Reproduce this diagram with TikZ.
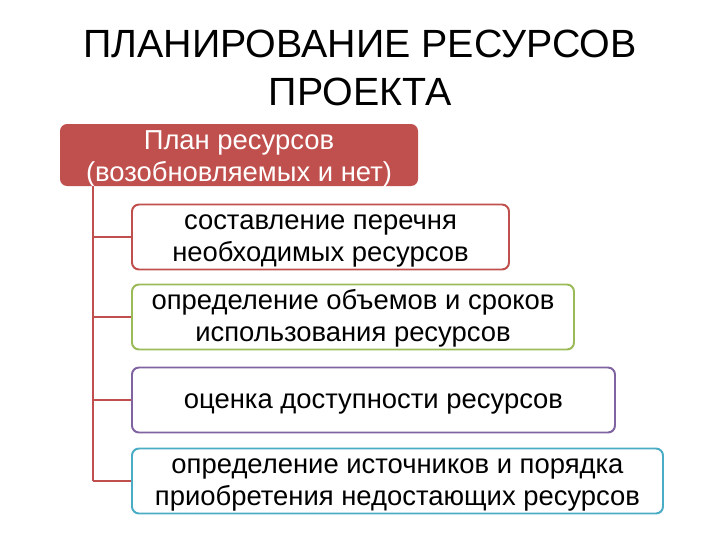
\documentclass[tikz,border=0pt]{standalone}
\usepackage{fontspec}
\setmainfont{Liberation Sans}
\usetikzlibrary{positioning}

\definecolor{planRed}{HTML}{C0504D}
\definecolor{planGreen}{HTML}{9BBB59}
\definecolor{planPurple}{HTML}{8064A2}
\definecolor{planTeal}{HTML}{4BACC6}

\tikzset{
	taskbox/.style={draw=#1, line width=1.4pt, rounded corners=5pt, fill=white, inner sep=0pt,
		align=center, anchor=west, font=\fontsize{19.5}{22.5}\selectfont},
	headbox/.style={fill=planRed, rounded corners=5pt, inner sep=0pt, align=center,
		text=white, font=\fontsize{19.5}{22.5}\selectfont},
	titleline/.style={inner sep=0pt, text height=20pt, text depth=0pt,
		font=\fontsize{28}{28}\selectfont},
	branch/.style={draw=planRed, line width=1.4pt}
}

\begin{document}
\begin{tikzpicture}[x=0.025cm, y=-0.025cm]

	%one unit is one pixel of the 720x540 sheet, y runs downwards
	\def\px{0.025cm}
	\def\boxLeft{131}
	\def\trunkX{93}
	%struts for the first line, so the text sits a little lower in its box
	\def\stepStrut{\rule{0pt}{16.5pt}}
	\def\headStrut{\rule{0pt}{15pt}}

	\useasboundingbox (0,0) rectangle (720,540);

	%title, two lines
	\node (titleTop) [titleline] at (360,43) {ПЛАНИРОВАНИЕ РЕСУРСОВ};
	\node (titleBottom) [titleline] at (360,91.5) {ПРОЕКТА};

	%head of the list
	\node (plan) [headbox, minimum width={358*\px}, minimum height={62*\px}] at (239,155)
		{\headStrut План ресурсов\\\raisebox{0pt}[\height][0pt]{(возобновляемых и нет)}};

	\coordinate (trunk) at (\trunkX,186);

	%the four steps: name/width/centre y/colour/text
	\foreach \name/\wid/\yc/\col/\txt in {
		stepA/377/237/planRed/{составление перечня\\необходимых ресурсов},
		stepB/442/317/planGreen/{определение объемов и сроков\\использования ресурсов},
		stepC/483/400/planPurple/{оценка доступности ресурсов},
		stepD/531/481/planTeal/{определение источников и порядка\\приобретения недостающих ресурсов}}
	{
		\node (\name) [taskbox=\col, minimum width={\wid*\px}, minimum height={65*\px}]
			at (\boxLeft,\yc) {\stepStrut\txt};
		\draw [branch] (trunk |- \name.west) -- (\name.west);
	}

	%vertical line from the head down to the last step
	\draw [branch] (trunk) -- (trunk |- stepD.west);

\end{tikzpicture}
\end{document}
